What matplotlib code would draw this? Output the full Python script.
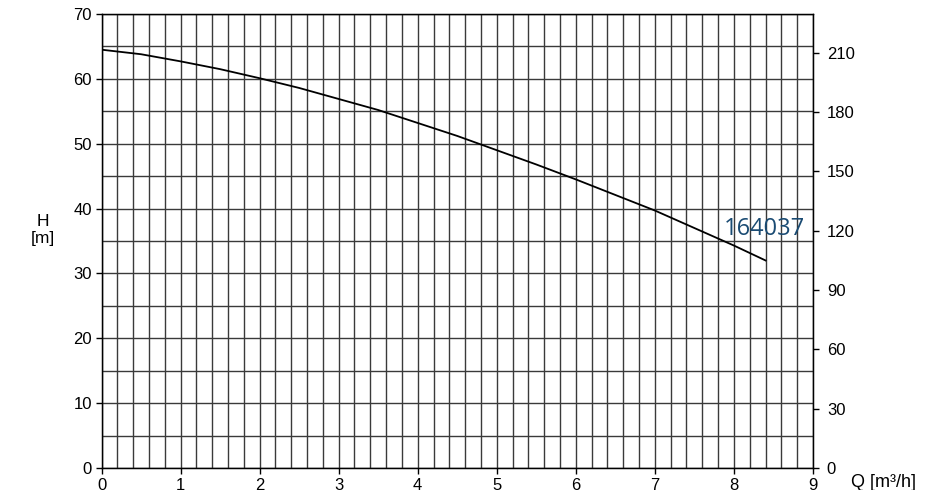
import matplotlib
matplotlib.use('Agg')

import matplotlib.pyplot as plt
import numpy as np

plt.rcParams['font.family'] = ['Liberation Sans', 'DejaVu Sans']

# Характеристика насоса: подача Q [m3/h] и напор H [m]
q_values = [0, 0.5, 1, 1.5, 2, 2.5, 3, 3.5, 4, 4.5, 5, 5.5, 6, 6.5, 7, 7.5, 8, 8.4]
h_values = [64.5, 63.8, 62.7, 61.5, 60.1, 58.6, 56.9, 55.2, 53.2, 51.2,
            49.0, 46.8, 44.5, 42.1, 39.7, 37.0, 34.3, 32.0]

x_ticks = [0, 1, 2, 3, 4, 5, 6, 7, 8, 9]
y_ticks = [0, 10, 20, 30, 40, 50, 60, 70]
ft_ticks = [0, 30, 60, 90, 120, 150, 180, 210]
curve_label = '164037'

FT = 0.3048

fig = plt.figure(figsize=(9.27, 4.9), dpi=100)
ax = fig.add_axes([0.1095, 0.0449, 0.7675, 0.9265])

# сетка
for xv in np.arange(0, 9.01, 0.2):
    ax.axvline(xv, color='#3a3a3a', linewidth=1.0, zorder=1)
for yv in np.arange(0, 70.1, 5):
    ax.axhline(yv, color='#3a3a3a', linewidth=1.0, zorder=1)

ax.plot(q_values, h_values, color='black', linewidth=1.3, zorder=3)

ax.text(7.87, 36.9, curve_label, color='#1a4b73', fontsize=17,
        family=['Open Sans', 'DejaVu Sans'], va='center', ha='left', zorder=4)

ax.set_xlim(0, 9)
ax.set_ylim(0, 70)
ax.set_xticks(x_ticks)
ax.set_yticks(y_ticks)
ax.tick_params(direction='out', length=4, width=1, labelsize=12, pad=3)

for s in ax.spines.values():
    s.set_linewidth(1.0)

# правая ось в футах
ax2 = ax.twinx()
ax2.set_ylim(0, 70 / FT)
ax2.set_yticks(ft_ticks)
ax2.tick_params(direction='out', length=4, width=1, labelsize=12, pad=6)

fig.text(0.046, 0.53, 'H\n[m]', fontsize=12.5, ha='center', va='center',
         linespacing=1.15)
fig.text(0.918, 0.015, 'Q [m³/h]', fontsize=13, ha='left', va='center')

fig.savefig('out.png', dpi=100)
